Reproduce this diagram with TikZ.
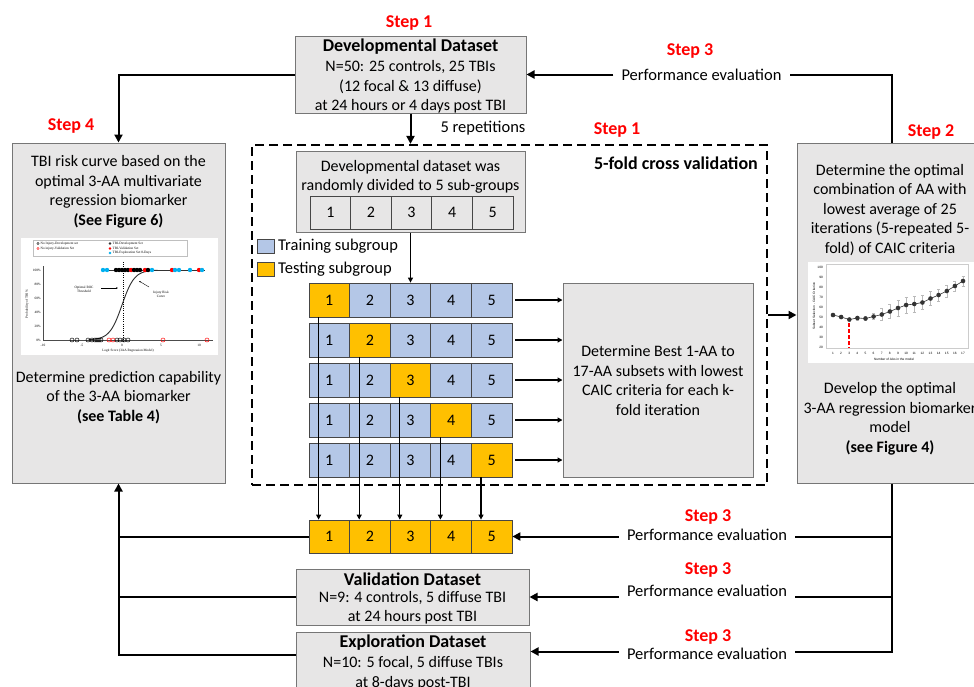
\documentclass[tikz,border=0pt]{standalone}
\usepackage{fontspec}
\setmainfont{Carlito}
\newfontfamily\chartserif{Liberation Serif}
\newfontfamily\chartsans{Liberation Sans}
\usetikzlibrary{arrows.meta}
\definecolor{boxgray}{RGB}{231,230,230}
\definecolor{boxline}{RGB}{118,118,118}
\definecolor{cellblue}{RGB}{180,199,231}
\definecolor{cellorange}{RGB}{255,192,0}
\definecolor{cellline}{RGB}{70,70,70}
\definecolor{stepred}{RGB}{255,0,0}
\definecolor{dotblue}{RGB}{0,176,240}
\tikzset{
  gbox/.style={draw=boxline,fill=boxgray,line width=1pt,inner sep=0pt},
  txt/.style={inner sep=0pt,align=center,font=\fontsize{16}{19.5}\selectfont},
  hd/.style={inner sep=0pt,font=\fontsize{18}{20}\selectfont\bfseries},
  steplbl/.style={inner sep=0pt,text=stepred,font=\fontsize{18}{20}\selectfont\bfseries},
  pe/.style={inner sep=0pt,font=\fontsize{16.5}{20}\selectfont},
  conn/.style={line width=2pt,black},
  thinln/.style={line width=1.1pt,black},
  bigtip/.style={-{Triangle[length=8pt,width=8pt]}},
  smalltip/.style={-{Triangle[length=5pt,width=5pt]}},
  cellbase/.style={draw=cellline,line width=0.8pt,minimum width=40.6pt,minimum height=34pt,inner sep=0pt,font=\fontsize{16}{19}\selectfont},
  bcell/.style={cellbase,fill=cellblue},
  ocell/.style={cellbase,fill=cellorange},
  gcell/.style={cellbase,fill=boxgray,minimum height=33pt},
  lctxt/.style={inner sep=0pt,font=\chartserif\fontsize{3.4}{3.9}\selectfont},
  rctxt/.style={inner sep=0pt,font=\chartsans\fontsize{3.2}{3.6}\selectfont},
}
\begin{document}
\begin{tikzpicture}[x=1pt,y=-1pt]
\useasboundingbox (0,0) rectangle (974,686);
\clip (0,0) rectangle (974,686);
\fill[white] (0,0) rectangle (974,686);

% ---------- main boxes ----------
\node[gbox,minimum width=231pt,minimum height=77pt] (dev) at (410.5,74.5) {};
\node[hd] (devh) at (410.5,47) {Developmental Dataset};
\node[txt] (devt) at (410.5,87) {N=50: 25 controls, 25 TBIs\\(12 focal \& 13 diffuse)\\at 24 hours or 4 days post TBI};

\node[gbox,minimum width=213pt,minimum height=340pt] (lb) at (118.5,313) {};
\node[txt] (lbt1) at (118.5,192) {TBI risk curve based on the\\optimal 3-AA multivariate\\regression biomarker\\\textbf{(See Figure 6)}};
\node[txt] (lbt2) at (118.5,397.5) {Determine prediction capability\\of the 3-AA biomarker\\\textbf{(see Table 4)}};

\node[gbox,minimum width=190pt,minimum height=340pt] (rb) at (892,313) {};
\node[txt] (rbt1) at (890,210) {Determine the optimal\\combination of AA with\\lowest average of 25\\iterations (5-repeated 5-\\fold) of CAIC criteria};
\node[txt] (rbt2) at (890,419) {Develop the optimal\\3-AA regression biomarker\\model\\\textbf{(see Figure 4)}};

\node[draw=black,line width=2.2pt,dash pattern=on 9pt off 5pt,minimum width=515pt,minimum height=340pt,inner sep=0pt] (db) at (509.5,315) {};
\node[hd,anchor=east] (cvt) at (758,163) {5-fold cross validation};

\node[gbox,minimum width=229pt,minimum height=81pt] (ib) at (410.5,191.5) {};
\node[txt] (ibt) at (410.5,177) {Developmental dataset was\\randomly divided to 5 sub-groups};
\foreach \j in {1,...,5} \node[gcell] (g\j) at ({310+40.6*(\j-0.5)},212.5) {\j};

\node[draw=cellline,fill=cellblue,line width=0.8pt,minimum width=17pt,minimum height=14pt,inner sep=0pt] (lgb) at (265.5,246) {};
\node[pe,anchor=west] (lgbt) at (278,246) {Training subgroup};
\node[draw=cellline,fill=cellorange,line width=0.8pt,minimum width=17pt,minimum height=14pt,inner sep=0pt] (lgo) at (265.5,269.5) {};
\node[pe,anchor=west] (lgot) at (278,269) {Testing subgroup};

\foreach \k in {1,...,5}{
  \foreach \j in {1,...,5}{
    \ifnum\j=\k\def\cs{ocell}\else\def\cs{bcell}\fi
    \node[\cs] (c\k\j) at ({309+40.6*(\j-0.5)},{300+40*(\k-1)}) {\j};
  }
}

\node[gbox,minimum width=190pt,minimum height=194pt] (bb) at (658,380) {};
\node[txt] (bbt) at (658,380.5) {Determine Best 1-AA to\\17-AA subsets with lowest\\CAIC criteria for each k-\\fold iteration};

\foreach \j in {1,...,5} \node[ocell,minimum height=33pt] (o\j) at ({309+40.6*(\j-0.5)},536.5) {\j};

\node[gbox,minimum width=233pt,minimum height=56pt] (vb) at (412.5,597) {};
\node[hd] (vbh) at (412.5,579) {Validation Dataset};
\node[txt] (vbt) at (412.5,607.5) {N=9: 4 controls, 5 diffuse TBI\\at 24 hours post TBI};

\node[gbox,minimum width=234pt,minimum height=70pt] (eb) at (413,667) {};
\node[hd] (ebh) at (413,643) {Exploration Dataset};
\node[txt] (ebt) at (413,673) {N=10: 5 focal, 5 diffuse TBIs\\at 8-days post-TBI};

% ---------- labels ----------
\node[steplbl] (s1a) at (409,23) {Step 1};
\node[steplbl] (s1b) at (617,130) {Step 1};
\node[steplbl] (s3a) at (690,51) {Step 3};
\node[steplbl] (s4) at (71,126) {Step 4};
\node[steplbl] (s2) at (931,132) {Step 2};
\node[steplbl] (s3b) at (708,517) {Step 3};
\node[steplbl] (s3c) at (708,570) {Step 3};
\node[steplbl] (s3d) at (708,637) {Step 3};
\node[pe] (rep) at (483,128) {5 repetitions};
\node[pe] (pe0) at (701.5,74.5) {Performance evaluation};
\node[pe] (pe1) at (707,535) {Performance evaluation};
\node[pe] (pe2) at (707,591) {Performance evaluation};
\node[pe] (pe3) at (707,654) {Performance evaluation};

% ---------- connectors ----------
\draw[conn,bigtip] (dev.west) -| (lb.north);
\draw[conn,bigtip,shorten <=8pt] (pe0.west) -- (pe0.west -| dev.east);
\draw[conn,shorten >=8pt] (rb.north) |- (pe0.east);
\draw[conn,bigtip] (dev.south) -- (dev.south |- db.north);
\draw[thinln,smalltip] (ib.south) -- (ib.south |- c13.north);
\foreach \k in {1,...,5} \draw[thinln,smalltip,shorten <=3pt] (c\k5.east) -- (c\k5.east -| bb.west);
\foreach \k in {1,...,5}{
  \coordinate (t\k) at ([xshift=10pt]c\k\k.south west);
  \draw[thinln,smalltip] (t\k) -- (t\k |- o\k.north);
}
\draw[conn,bigtip] (db.east) -- (db.east -| rb.west);

\draw[conn,bigtip] ([yshift=-23pt]eb.north west) -| (lb.south);
\draw[conn] (o1.west) -- (o1.west -| lb.south);
\draw[conn] (vb.west) -- (vb.west -| lb.south);

\coordinate (jv) at ([yshift=-20pt]eb.north east);
\draw[conn,shorten >=8pt] (rb.south) |- (pe3.east |- jv);
\draw[conn,bigtip,shorten <=8pt] (pe3.west |- jv) -- (jv);
\draw[conn,shorten >=8pt] (rb.south |- vb.east) -- (pe2.east |- vb.east);
\draw[conn,bigtip,shorten <=8pt] (pe2.west |- vb.east) -- (vb.east);
\draw[conn,shorten >=8pt] (rb.south |- o5.east) -- (pe1.east |- o5.east);
\draw[conn,bigtip,shorten <=8pt] (pe1.west |- o5.east) -- (o5.east);

% ---------- left chart ----------
\fill[white] (21,238) rectangle (218,355);
\draw[gray!50,line width=0.3pt] (33,240) rectangle (187,256);
\draw[black,line width=0.35pt] (38,243.5) circle (1.2);
\node[lctxt,anchor=west] (lg1) at (40.5,243.5) {No Injury-Development set};
\fill[black!80] (110,243.5) circle (1.3);
\node[lctxt,anchor=west] (lg2) at (112.5,243.5) {TBI-Development Set};
\draw[red,line width=0.35pt] (38,248.5) circle (1.2);
\node[lctxt,anchor=west] (lg3) at (40.5,248.5) {No injury-Validation Set};
\fill[red] (110,248.5) circle (1.3);
\node[lctxt,anchor=west] (lg4) at (112.5,248.5) {TBI-Validation Set};
\fill[dotblue] (110,253) circle (1.3);
\node[lctxt,anchor=west] (lg5) at (112.5,253) {TBI-Exploration Set 8-Days};
\draw[gray!60!black,line width=0.5pt] (43,266) -- (43,340) -- (213,340);
\foreach \p/\yy in {100/270,80/284,60/298,40/312,20/326,0/340} \node[lctxt,anchor=east] (ly\p) at (41,\yy) {\p\%};
\foreach \t/\xx [count=\n] in {-10/43,-5/82,0/122,5/161,10/199} \node[lctxt] (lx\n) at (\xx,345) {\t};
\node[lctxt] (lxl) at (128,351) {Logit Score (3AA Regression Model)};
\node[lctxt,rotate=90] (lyl) at (27,304) {Probability of TBI \%};
\draw[gray!40!black,line width=0.5pt] (101,270) -- (205,270);
\draw[gray!35!black,line width=0.9pt] plot[domain=-4.3:4.6,samples=60] ({122+7.75*\x},{340-70/(1+exp(-1.25*\x))});
\draw[black,line width=0.6pt,dash pattern=on 1pt off 1.2pt] (123,262) -- (123,342);
\foreach \px/\c in {103/dotblue,107/dotblue,116/black,119/black,122/black,125/black,128/black,131/red,134/black,137/black,140/black,145/red,148/black,152/dotblue,172/red,175/dotblue,179/dotblue,190/dotblue,199/red,202/dotblue}
  \fill[\c] (\px,270) circle (2.2);
\foreach \px/\c in {72/black,77/black,88/black,92/black,95/black,97/black,99/black,101/black,109/red,113/red,117/black,120/black,124/black,128/black,163/red,207/red}
  \draw[\c,line width=0.5pt] (\px,340) circle (2);
\node[lctxt,align=center] (roc) at (84,289) {Optimal ROC\\Threshold};
\draw[line width=0.4pt,-{Stealth[length=2pt,width=1.6pt]}] (101,288) -- (118,288);
\node[lctxt,align=center] (irc) at (161,294) {Injury Risk\\Curve};
\draw[line width=0.4pt,-{Stealth[length=2pt,width=1.6pt]}] (149,287) -- (139,281);

% ---------- right chart ----------
\fill[white] (808,262) rectangle (974,363);
\draw[gray!40,line width=0.3pt] (826,264) rectangle (968,348);
\foreach \v in {20,30,...,100} \node[rctxt,anchor=east] (ry\v) at (823,{367-\v}) {\v};
\foreach \i in {1,...,17} \node[rctxt] (rx\i) at ({833+8.125*(\i-1)},353) {\i};
\node[rctxt] (rxl) at (894,359) {Number of AAs in the model};
\node[rctxt,rotate=90] (ryl) at (814,306) {Subset Selection - CAIC Criterion};
\foreach \i/\v/\e in {1/52/1,2/50/1.5,3/47.5/1.5,4/49/2,5/48.5/2,6/50.5/3,7/52.5/6,8/55.5/7,9/59/8,10/62/8,11/63/8,12/64.5/7,13/68.5/7,14/72/6,15/76/6,16/81/5,17/86/5}{
  \draw[gray!55,line width=0.4pt] ({833+8.125*(\i-1)},{367-\v-\e}) -- ({833+8.125*(\i-1)},{367-\v+\e});
  \draw[gray!55,line width=0.4pt] ({831.5+8.125*(\i-1)},{367-\v-\e}) -- ({834.5+8.125*(\i-1)},{367-\v-\e});
  \draw[gray!55,line width=0.4pt] ({831.5+8.125*(\i-1)},{367-\v+\e}) -- ({834.5+8.125*(\i-1)},{367-\v+\e});
}
\draw[gray!40!black,line width=0.6pt] plot coordinates {(833,315) (841.1,317) (849.3,319.5) (857.4,318) (865.5,318.5) (873.6,316.5) (881.8,314.5) (889.9,311.5) (898,308) (906.1,305) (914.3,304) (922.4,302.5) (930.5,298.5) (938.6,295) (946.8,291) (954.9,286) (963,281)};
\foreach \xx/\yy in {833/315,841.1/317,849.3/319.5,857.4/318,865.5/318.5,873.6/316.5,881.8/314.5,889.9/311.5,898/308,906.1/305,914.3/304,922.4/302.5,930.5/298.5,938.6/295,946.8/291,954.9/286,963/281}
  \fill[gray!40!black] (\xx,\yy) circle (2.3);
\draw[stepred,line width=2.2pt,dash pattern=on 4pt off 2pt] (849.3,323) -- (849.3,348);
\end{tikzpicture}
\end{document}
